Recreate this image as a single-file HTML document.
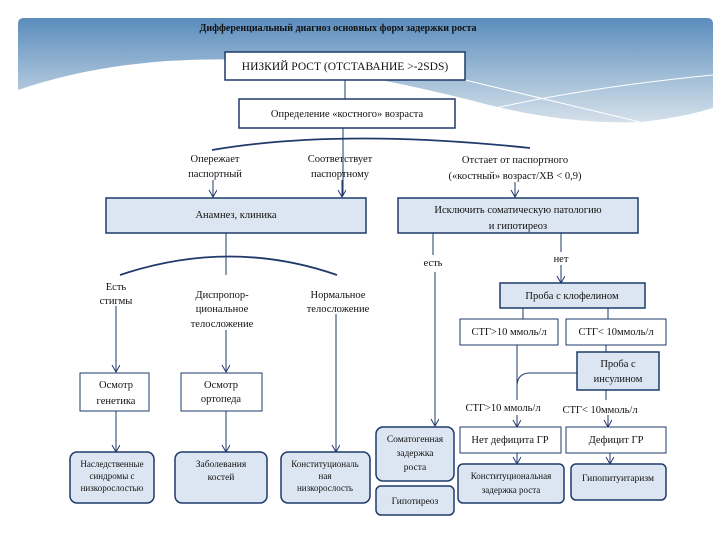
<!DOCTYPE html>
<html><head><meta charset="utf-8"><style>
body{margin:0;width:720px;height:540px;background:#fff;overflow:hidden;font-family:"Liberation Serif",serif;}
svg{position:absolute;left:0;top:0}
.t{font-family:"Liberation Serif",serif;font-size:10.5px;fill:#111;text-anchor:middle}
</style></head><body>
<svg width="720" height="540" viewBox="0 0 720 540">
<defs>
<linearGradient id="g" x1="0" y1="0" x2="0" y2="1">
<stop offset="0" stop-color="#5a8cbc"/><stop offset="0.5" stop-color="#9ab8d4"/><stop offset="1" stop-color="#d4e0ea"/>
</linearGradient>
<marker id="a" markerWidth="9" markerHeight="9" refX="8" refY="4" orient="auto" markerUnits="userSpaceOnUse"><path d="M1,0 L8,4 L1,8" fill="none" stroke="#1f3a6b" stroke-width="1"/></marker>
</defs>
<path d="M18,24 Q18,18 24,18 L707,18 Q713,18 713,24 L713,108 Q680,118 640,122 Q560,125 470,100 Q350,70 250,60 Q120,55 18,90 Z" fill="url(#g)"/>
<path d="M465,80 L640,122 M455,118 Q560,90 713,75" stroke="#fff" stroke-width="1" fill="none"/>
<text x="338" y="31" class="t" style="font-weight:bold;font-size:10px">Дифференциальный диагноз основных форм задержки роста</text>
<g stroke="#1f3a6b" fill="none" stroke-width="1">
<line x1="345" y1="80" x2="345" y2="99"/>
<line x1="343" y1="128" x2="343" y2="196"/>
<path d="M212,150 Q340,128 530,148" stroke-width="1.8"/>
<line x1="213" y1="180" x2="213" y2="197" marker-end="url(#a)"/>
<line x1="342" y1="180" x2="342" y2="197" marker-end="url(#a)"/>
<line x1="515" y1="182" x2="515" y2="197" marker-end="url(#a)"/>
<line x1="226" y1="233" x2="226" y2="275"/>
<path d="M120,275 Q230,238 337,275" stroke-width="1.8"/>
<line x1="116" y1="306" x2="116" y2="372" marker-end="url(#a)"/>
<line x1="226" y1="330" x2="226" y2="372" marker-end="url(#a)"/>
<line x1="336" y1="314" x2="336" y2="452" marker-end="url(#a)"/>
<line x1="116" y1="411" x2="116" y2="452" marker-end="url(#a)"/>
<line x1="226" y1="411" x2="226" y2="452" marker-end="url(#a)"/>
<line x1="433" y1="233" x2="433" y2="255"/>
<line x1="435" y1="272" x2="435" y2="426" marker-end="url(#a)"/>
<line x1="561" y1="233" x2="561" y2="252"/>
<line x1="561" y1="265" x2="561" y2="283" marker-end="url(#a)"/>
<line x1="523" y1="308" x2="523" y2="319"/>
<line x1="608" y1="308" x2="608" y2="319"/>
<line x1="517" y1="345" x2="517" y2="400"/>
<path d="M577,373 L530,373 Q518,373 517,385"/>
<line x1="606" y1="345" x2="606" y2="352"/>
<line x1="606" y1="390" x2="606" y2="400"/>
<line x1="517" y1="415" x2="517" y2="427" marker-end="url(#a)"/>
<line x1="608" y1="415" x2="608" y2="427" marker-end="url(#a)"/>
<line x1="517" y1="453" x2="517" y2="464" marker-end="url(#a)"/>
<line x1="610" y1="453" x2="610" y2="464" marker-end="url(#a)"/>
</g>
<g stroke="#1f3a6b" stroke-width="1.5">
<rect x="225" y="52" width="240" height="28" fill="#fff"/>
<rect x="239" y="99" width="216" height="29" fill="#fff"/>
<rect x="106" y="198" width="260" height="35" fill="#dce6f2"/>
<rect x="398" y="198" width="240" height="35" fill="#dce6f2"/>
<rect x="80" y="373" width="69" height="38" fill="#fff" stroke-width="1"/>
<rect x="181" y="373" width="81" height="38" fill="#fff" stroke-width="1"/>
<rect x="500" y="283" width="145" height="25" fill="#dce6f2"/>
<rect x="460" y="319" width="98" height="26" fill="#fff" stroke-width="1"/>
<rect x="566" y="319" width="100" height="26" fill="#fff" stroke-width="1"/>
<rect x="577" y="352" width="82" height="38" fill="#dce6f2"/>
<rect x="460" y="427" width="101" height="26" fill="#fff" stroke-width="1"/>
<rect x="566" y="427" width="100" height="26" fill="#fff" stroke-width="1"/>
<rect x="70" y="452" width="84" height="51" rx="7" fill="#dce6f2"/>
<rect x="175" y="452" width="92" height="51" rx="7" fill="#dce6f2"/>
<rect x="281" y="452" width="89" height="51" rx="7" fill="#dce6f2"/>
<rect x="376" y="427" width="78" height="54" rx="7" fill="#dce6f2"/>
<rect x="376" y="486" width="78" height="29" rx="5" fill="#dce6f2"/>
<rect x="458" y="464" width="106" height="39" rx="5" fill="#dce6f2"/>
<rect x="571" y="464" width="95" height="36" rx="5" fill="#dce6f2"/>
</g>
<text x="345" y="70" class="t" style="font-size:11.5px">НИЗКИЙ РОСТ (ОТСТАВАНИЕ &gt;-2SDS)</text>
<text x="347" y="117" class="t">Определение «костного» возраста</text>
<text x="215" y="162" class="t">Опережает</text><text x="215" y="177" class="t">паспортный</text>
<text x="340" y="162" class="t">Соответствует</text><text x="340" y="177" class="t">паспортному</text>
<text x="515" y="163" class="t">Отстает от паспортного</text><text x="515" y="179" class="t">(«костный» возраст/ХВ &lt; 0,9)</text>
<text x="236" y="218" class="t">Анамнез, клиника</text>
<text x="518" y="213" class="t">Исключить соматическую патологию</text><text x="518" y="229" class="t">и гипотиреоз</text>
<text x="433" y="266" class="t">есть</text><text x="561" y="262" class="t">нет</text>
<text x="116" y="290" class="t">Есть</text><text x="116" y="304" class="t">стигмы</text>
<text x="222" y="298" class="t">Диспропор-</text><text x="222" y="312" class="t">циональное</text><text x="222" y="327" class="t">телосложение</text>
<text x="338" y="298" class="t">Нормальное</text><text x="338" y="312" class="t">телосложение</text>
<text x="116" y="388" class="t">Осмотр</text><text x="116" y="404" class="t">генетика</text>
<text x="221" y="388" class="t">Осмотр</text><text x="221" y="402" class="t">ортопеда</text>
<text x="572" y="299" class="t">Проба с клофелином</text>
<text x="509" y="335" class="t">СТГ&gt;10 ммоль/л</text><text x="616" y="335" class="t">СТГ&lt; 10ммоль/л</text>
<text x="618" y="367" class="t">Проба с</text><text x="618" y="382" class="t">инсулином</text>
<text x="503" y="411" class="t">СТГ&gt;10 ммоль/л</text><text x="600" y="413" class="t">СТГ&lt; 10ммоль/л</text>
<text x="510" y="443" class="t">Нет дефицита ГР</text><text x="616" y="443" class="t">Дефицит ГР</text>
<text x="112" y="467" class="t" style="font-size:9px">Наследственные</text><text x="112" y="479" class="t" style="font-size:9px">синдромы с</text><text x="112" y="491" class="t" style="font-size:9px">низкорослостью</text>
<text x="221" y="467" class="t" style="font-size:9.5px">Заболевания</text><text x="221" y="480" class="t" style="font-size:9.5px">костей</text>
<text x="325" y="467" class="t" style="font-size:9px">Конституциональ</text><text x="325" y="479" class="t" style="font-size:9px">ная</text><text x="325" y="491" class="t" style="font-size:9px">низкорослость</text>
<text x="415" y="442" class="t" style="font-size:9.5px">Соматогенная</text><text x="415" y="456" class="t" style="font-size:9.5px">задержка</text><text x="415" y="470" class="t" style="font-size:9.5px">роста</text>
<text x="415" y="504" class="t" style="font-size:9.5px">Гипотиреоз</text>
<text x="511" y="479" class="t" style="font-size:9px">Конституциональная</text><text x="511" y="493" class="t" style="font-size:9px">задержка роста</text>
<text x="618" y="481" class="t" style="font-size:9.5px">Гипопитуитаризм</text>
</svg>
</body></html>
